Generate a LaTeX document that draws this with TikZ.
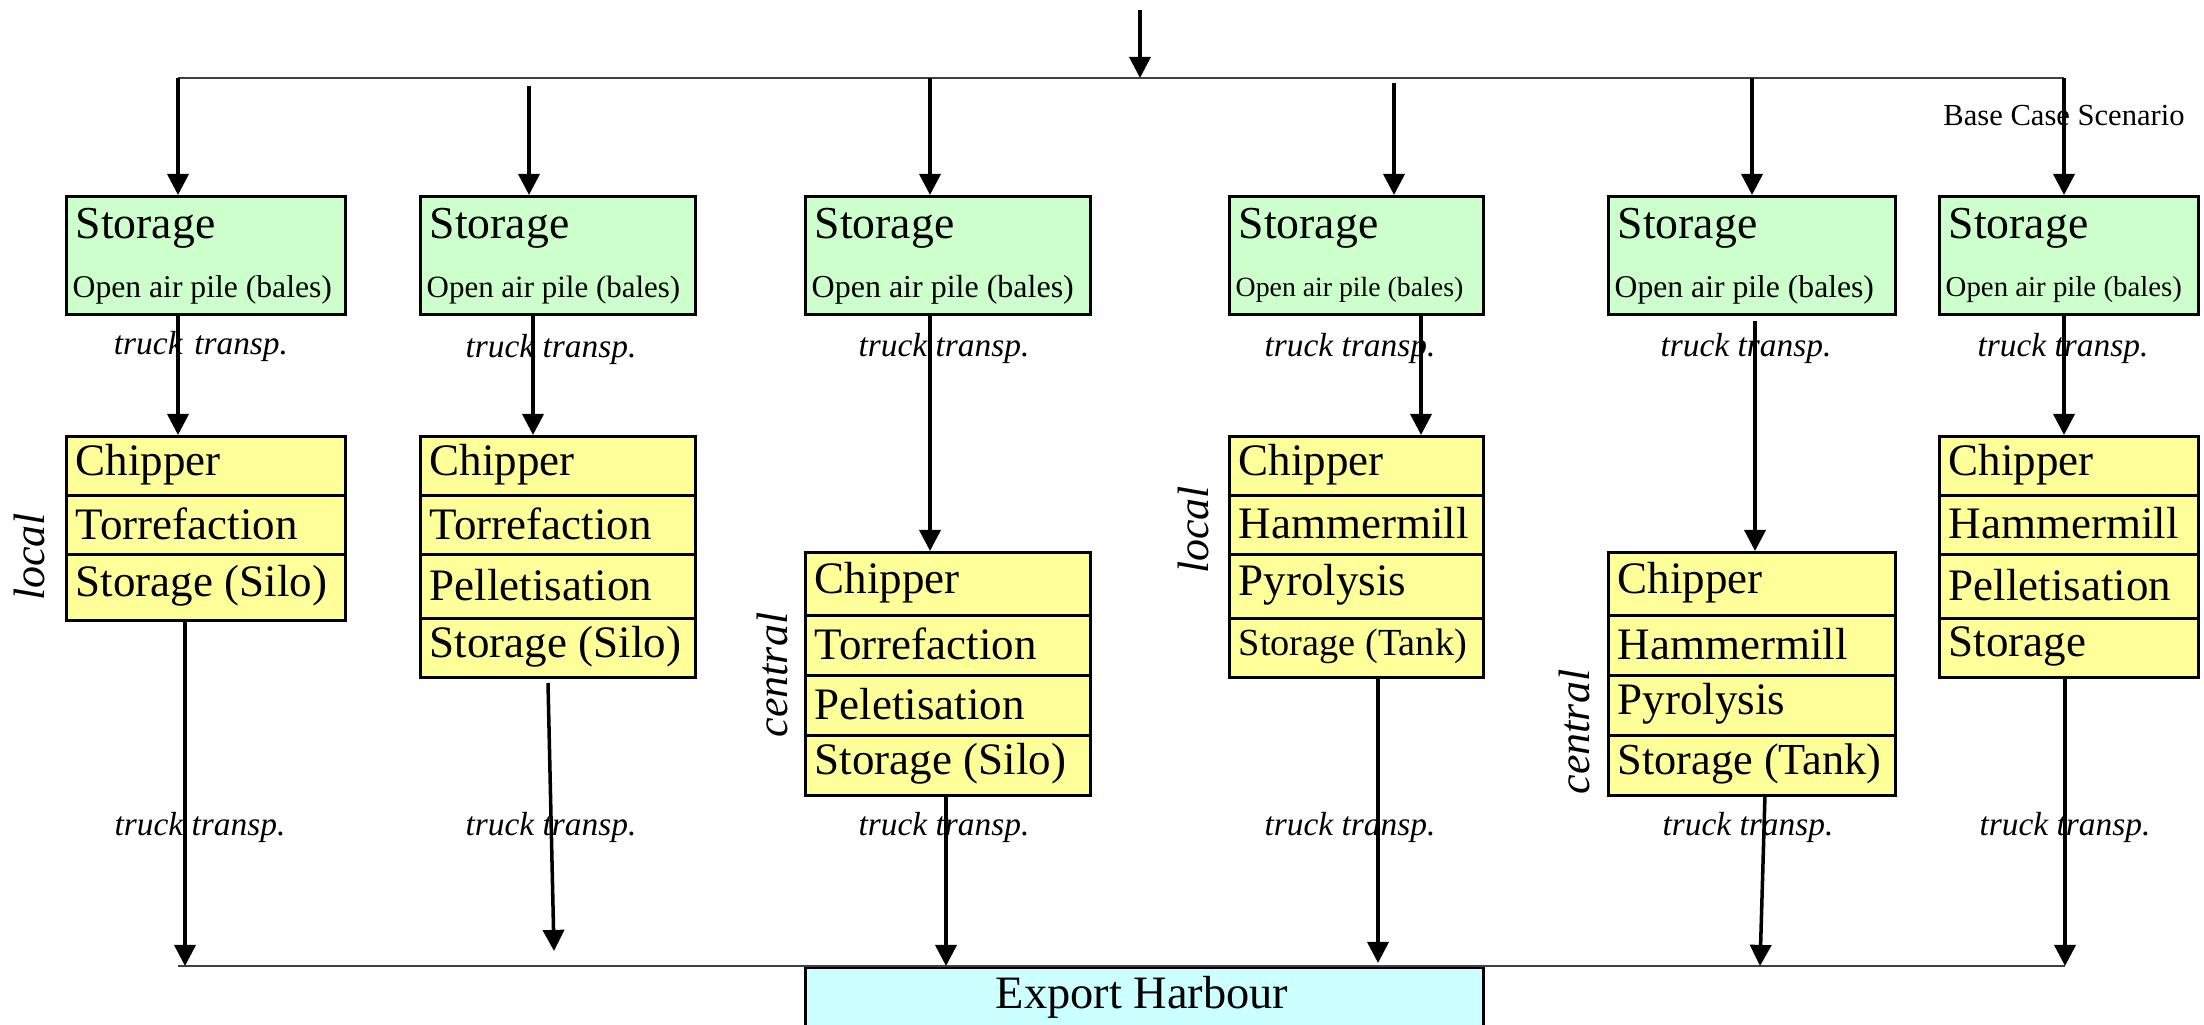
\documentclass[tikz,border=0pt]{standalone}
\usepackage{fontspec}
\setmainfont{Liberation Serif}
\usetikzlibrary{arrows.meta,calc}
\definecolor{stgreen}{RGB}{204,255,204}
\definecolor{procyellow}{RGB}{255,255,153}
\definecolor{harbcyan}{RGB}{204,255,255}
\newcommand{\fsz}[1]{\fontsize{#1}{#1}\selectfont}
% storage box: name, x1, x2, subtext size
\newcommand{\stbox}[4]{%
  \node[boxst,fill=stgreen,anchor=north west,minimum width={(#3-#2)*0.01cm},minimum height={118*0.01cm}] (#1) at (#2,195) {};
  \node[anchor=west,inner sep=0pt,font=\fsz{13}] (#1a) at ({#2+10},228) {Storage};
  \node[anchor=west,inner sep=0pt,font=\fsz{#4}] (#1b) at ({#2+7},290) {Open air pile (bales)};
}
% process row: name, x1, x2, y1, y2, text
\newcommand{\prow}[6]{%
  \node[boxst,fill=procyellow,anchor=north west,minimum width={(#3-#2)*0.01cm},minimum height={(#5-#4)*0.01cm}] (#1) at (#2,#4) {};
  \node[anchor=west,inner sep=0pt] (#1t) at ({#2+10},{(#4+#5)/2}) {#6};
}
\begin{document}
\begin{tikzpicture}[x=0.01cm,y=-0.01cm,
  boxst/.style={draw=black,line width=0.95pt,inner sep=0pt},
  arr/.style={line width=1pt,-{Triangle[length=6pt,width=6pt]}},
  bus/.style={line width=0.6pt,draw=black!75},
  lbl/.style={inner sep=0pt,font=\fsz{9.5}\itshape},
  side/.style={inner sep=0pt,font=\fsz{12.5}\itshape,rotate=90},
  ptxt/.style={font=\fsz{12.8}}]
\useasboundingbox (0,0) rectangle (2204,1025);
\fill[white] (0,0) rectangle (2204,1025);
\begin{scope}
\clip (0,0) rectangle (2204,1025);

% storage boxes
\stbox{s1}{65}{344}{9}
\stbox{s2}{419}{694}{8.8}
\stbox{s3}{804}{1089}{9.1}
\stbox{s4}{1228}{1482}{7.9}
\stbox{s5}{1607}{1894}{9}
\stbox{s6}{1938}{2197}{8.2}

% process columns
\prow{r1a}{65}{344}{435}{494}{\fsz{12.8}Chipper}
\prow{r1b}{65}{344}{494}{553}{\fsz{12.8}Torrefaction}
\prow{r1c}{65}{344}{553}{619}{\fsz{12.8}Storage (Silo)}

\prow{r2a}{419}{694}{435}{494}{\fsz{12.8}Chipper}
\prow{r2b}{419}{694}{494}{553}{\fsz{12.8}Torrefaction}
\prow{r2c}{419}{694}{553}{617}{\fsz{12.8}Pelletisation}
\prow{r2d}{419}{694}{617}{676}{\fsz{12.8}Storage (Silo)}

\prow{r3a}{804}{1089}{551}{614}{\fsz{12.8}Chipper}
\prow{r3b}{804}{1089}{614}{674}{\fsz{12.8}Torrefaction}
\prow{r3c}{804}{1089}{674}{734}{\fsz{12.8}Peletisation}
\prow{r3d}{804}{1089}{734}{794}{\fsz{12.8}Storage (Silo)}

\prow{r4a}{1228}{1482}{435}{494}{\fsz{12.8}Chipper}
\prow{r4b}{1228}{1482}{494}{553}{\fsz{12.8}Hammermill}
\prow{r4c}{1228}{1482}{553}{617}{\fsz{12.8}Pyrolysis}
\prow{r4d}{1228}{1482}{617}{676}{\fsz{10.9}Storage (Tank)}

\prow{r5a}{1607}{1894}{551}{614}{\fsz{12.8}Chipper}
\prow{r5b}{1607}{1894}{614}{674}{\fsz{12.8}Hammermill}
\prow{r5c}{1607}{1894}{674}{734}{\fsz{12.8}Pyrolysis}
\prow{r5d}{1607}{1894}{734}{794}{\fsz{12.6}Storage (Tank)}

\prow{r6a}{1938}{2197}{435}{494}{\fsz{12.8}Chipper}
\prow{r6b}{1938}{2197}{494}{553}{\fsz{12.8}Hammermill}
\prow{r6c}{1938}{2197}{553}{617}{\fsz{12.8}Pelletisation}
\prow{r6d}{1938}{2197}{617}{676}{\fsz{12.8}Storage}

% export harbour
\node[boxst,fill=harbcyan,anchor=north west,minimum width={678*0.01cm},minimum height={90*0.01cm}] (harb) at (804,966) {};
\node[font=\fsz{13.2},inner sep=0pt] (harbt) at (1142,997) {Export Harbour};

% top distribution
\coordinate (src) at (1140,10);
\coordinate (hub) at (1140,78);
\coordinate (busL) at (178,78);
\coordinate (busR) at (2064,78);
\draw[bus] (busL) -- (busR);
\draw[arr] (src) -- (hub);

\coordinate (t1) at (178,78);
\coordinate (t2) at (529,86);
\coordinate (t3) at (930,78);
\coordinate (t4) at (1394,83);
\coordinate (t5) at (1752,78);
\coordinate (t6) at (2064,78);
\draw[arr] (t1) -- (t1 |- s1.north);
\draw[arr] (t2) -- (t2 |- s2.north);
\draw[arr] (t3) -- (t3 |- s3.north);
\draw[arr] (t4) -- (t4 |- s4.north);
\draw[arr] (t5) -- (t5 |- s5.north);
\draw[arr] (t6) -- (t6 |- s6.north);

% storage -> processing
\coordinate (m1) at (178,313);
\coordinate (m2) at (533,313);
\coordinate (m3) at (930,313);
\coordinate (m4) at (1421,313);
\coordinate (m5) at (1755,321);
\coordinate (m6) at (2064,313);
\draw[arr] (m1) -- (m1 |- r1a.north);
\draw[arr] (m2) -- (m2 |- r2a.north);
\draw[arr] (m3) -- (m3 |- r3a.north);
\draw[arr] (m4) -- (m4 |- r4a.north);
\draw[arr] (m5) -- (m5 |- r5a.north);
\draw[arr] (m6) -- (m6 |- r6a.north);

% bottom collection
\coordinate (bbL) at (178,966);
\coordinate (bbR) at (2065,966);
\draw[bus] (bbL) -- (bbR);

\coordinate (b1) at (185,619);
\coordinate (b2s) at (548,683);
\coordinate (b2e) at (554,951);
\coordinate (b3) at (946,794);
\coordinate (b4) at (1378,676);
\coordinate (b4e) at (1378,963);
\coordinate (b5s) at (1765,794);
\coordinate (b5e) at (1760,966);
\coordinate (b6) at (2065,676);
\draw[arr] (b1) -- (b1 |- bbL);
\draw[arr] (b2s) -- (b2e);
\draw[arr] (b3) -- (b3 |- harb.north);
\draw[arr] (b4) -- (b4e);
\draw[arr] (b5s) -- (b5e);
\draw[arr] (b6) -- (b6 |- bbR);

% labels
\node[font=\fsz{8.7},inner sep=0pt] (bcs) at (2064,116) {Base Case Scenario};

\node[lbl] (u1) at (201,346) {truck\hspace{0.35em}transp.};
\node[lbl] (u2) at (551,349) {truck transp.};
\node[lbl] (u3) at (944,348) {truck transp.};
\node[lbl] (u4) at (1350,348) {truck transp.};
\node[lbl] (u5) at (1746,348) {truck transp.};
\node[lbl] (u6) at (2063,348) {truck transp.};

\node[lbl] (d1) at (200,827) {truck transp.};
\node[lbl] (d2) at (551,827) {truck transp.};
\node[lbl] (d3) at (944,827) {truck transp.};
\node[lbl] (d4) at (1350,827) {truck transp.};
\node[lbl] (d5) at (1748,827) {truck transp.};
\node[lbl] (d6) at (2065,827) {truck transp.};

\node[side] (loc1) at (29,557) {local};
\node[side] (cen3) at (772,675) {central};
\node[side] (loc4) at (1193,530) {local};
\node[side] (cen5) at (1574,732) {central};
\end{scope}
\end{tikzpicture}
\end{document}
